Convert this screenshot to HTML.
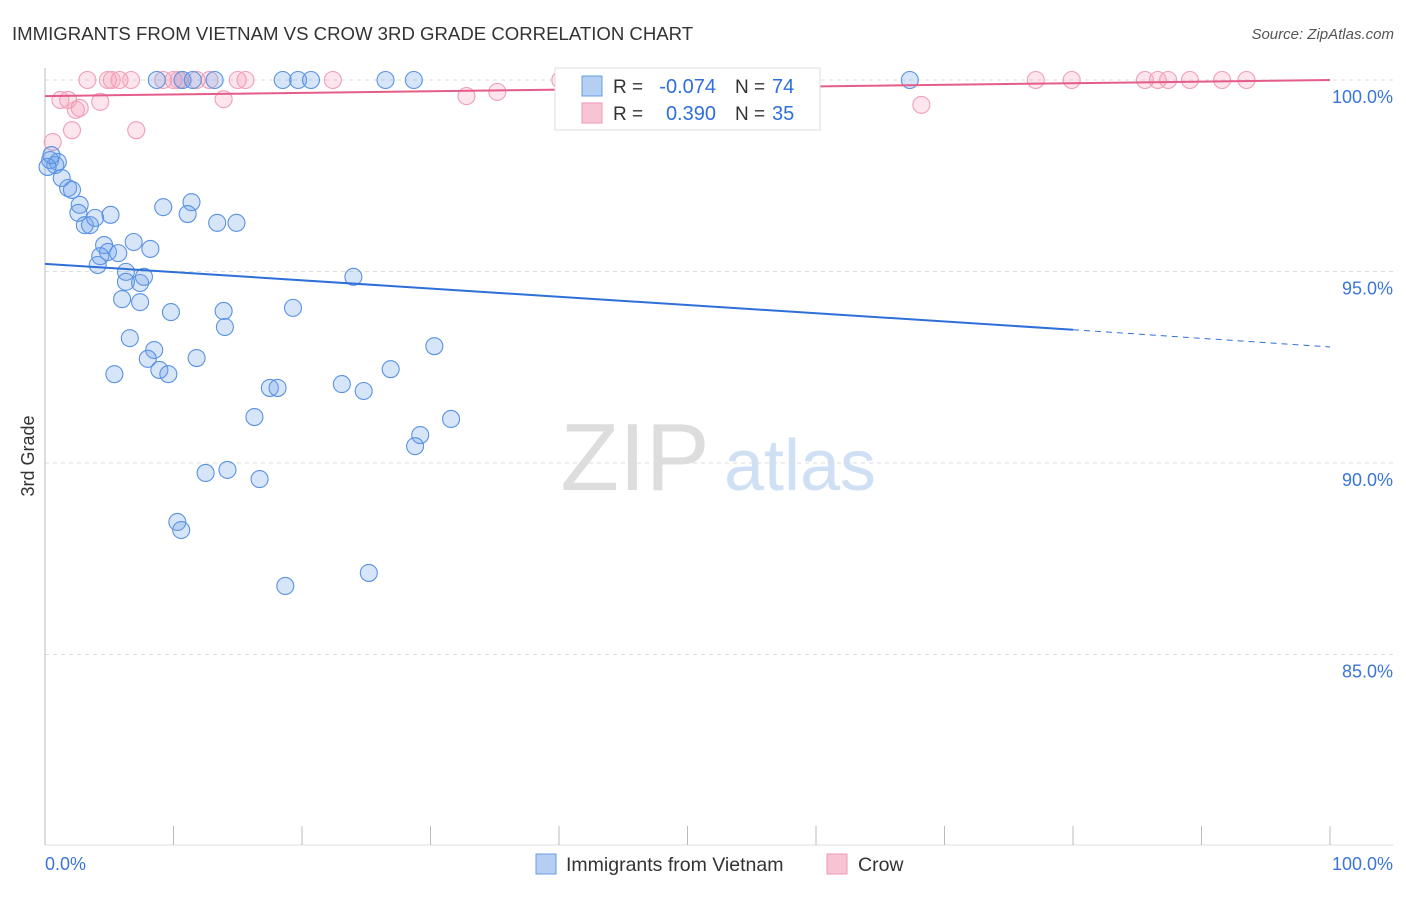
<!DOCTYPE html>
<html><head><meta charset="utf-8"><style>
body{margin:0;background:#fff;font-family:"Liberation Sans",sans-serif;}
svg text{font-family:"Liberation Sans",sans-serif;}
</style></head><body>
<svg id="c" width="1406" height="892" xmlns="http://www.w3.org/2000/svg">
<text x="12" y="40" font-size="18.6" fill="#333">IMMIGRANTS FROM VIETNAM VS CROW 3RD GRADE CORRELATION CHART</text>
<text x="1394" y="39" font-size="15" fill="#555" font-style="italic" text-anchor="end">Source: ZipAtlas.com</text>
<text x="34" y="456" font-size="18" fill="#333" text-anchor="middle" transform="rotate(-90 34 456)">3rd Grade</text>
<g><text x="635" y="490" font-size="96" fill="#ddd" font-family="Liberation Serif" text-anchor="middle">ZIP</text><text x="800" y="490" font-size="72" fill="#cfe0f5" text-anchor="middle">atlas</text></g>
<g id="grid"></g><g id="pts"></g><g id="lines"></g>
<g>
<rect x="555" y="68" width="265" height="62" fill="#fff" stroke="#ddd"/>
<rect x="582" y="76" width="20" height="20" fill="#b5cff3" stroke="#6a9be0"/>
<rect x="582" y="103" width="20" height="20" fill="#f8c3d3" stroke="#ec9ab4"/>
<text x="613" y="93" font-size="19" fill="#333">R =</text>
<text x="716" y="93" font-size="20" fill="#2f6fd8" text-anchor="end">-0.074</text>
<text x="735" y="93" font-size="19" fill="#333">N =</text>
<text x="772" y="93" font-size="20" fill="#2f6fd8">74</text>
<text x="613" y="120" font-size="19" fill="#333">R =</text>
<text x="716" y="120" font-size="20" fill="#2f6fd8" text-anchor="end">0.390</text>
<text x="735" y="120" font-size="19" fill="#333">N =</text>
<text x="772" y="120" font-size="20" fill="#2f6fd8">35</text>
</g>
<g>
<rect x="536" y="854" width="20" height="20" fill="#b5cff3" stroke="#6a9be0"/>
<text x="566" y="871" font-size="19.5" fill="#333">Immigrants from Vietnam</text>
<rect x="827" y="854" width="20" height="20" fill="#f8c3d3" stroke="#ec9ab4"/>
<text x="858" y="871" font-size="19.5" fill="#333">Crow</text>
</g>
<text x="45" y="870" font-size="18" fill="#3a76d8">0.0%</text>
<text x="1393" y="870" font-size="18" fill="#3a76d8" text-anchor="end">100.0%</text>
</svg>
<script>
const yTicks=[100,95,90,85];
const xTicks=[0,10,20,30,40,50,60,70,80,90,100];
const blueX=[8.7,10.7,11.5,13.2,18.5,19.7,20.7,26.5,28.7,43.0,67.3,0.4,0.8,1.0,0.2,0.5,1.3,1.8,2.1,2.7,2.6,3.1,3.5,3.9,5.1,4.6,4.9,4.3,4.1,5.7,6.9,8.2,6.3,6.3,7.4,7.7,6.0,7.4,9.2,11.4,11.1,13.4,14.9,9.8,6.6,8.5,8.0,8.9,9.6,5.4,11.8,13.9,14.0,19.3,24.0,30.3,26.9,23.1,24.8,17.5,18.1,16.3,31.6,29.2,28.8,12.5,14.2,16.7,10.3,10.6,18.7,25.2];
const blueY=[100,100,100,100,100,100,100,100,100,100,100,97.91,97.78,97.86,97.73,98.04,97.44,97.18,97.13,96.74,96.53,96.21,96.21,96.40,96.48,95.69,95.51,95.40,95.17,95.48,95.77,95.59,94.99,94.73,94.70,94.86,94.28,94.20,96.68,96.81,96.50,96.27,96.27,93.94,93.26,92.95,92.72,92.43,92.32,92.32,92.74,93.97,93.55,94.05,94.86,93.05,92.45,92.06,91.88,91.96,91.96,91.20,91.15,90.73,90.44,89.74,89.82,89.58,88.46,88.25,86.79,87.13];
const pinkX=[1.2,1.8,3.3,4.9,5.2,5.8,6.7,9.2,10.0,10.4,10.7,11.8,12.8,15.0,15.6,22.4,40.1,56.4,77.1,79.9,85.6,86.6,87.4,89.1,91.6,93.5,2.4,2.7,4.3,2.1,7.1,0.6,13.9,32.8,35.2,68.2];
const pinkY=[99.48,99.48,100,100,100,100,100,100,100,100,100,100,100,100,100,100,100,100,100,100,100,100,100,100,100,100,99.22,99.27,99.43,98.69,98.69,98.38,99.50,99.58,99.69,99.35];
const blueTrend=[95.2,93.48,93.03];
const pinkTrend=[99.58,100.0];
const NS='http://www.w3.org/2000/svg';
const X=v=>45+v*12.85, Y=v=>80+(100-v)*38.3;
function mk(t,a,p){const e=document.createElementNS(NS,t);for(const k in a)e.setAttribute(k,a[k]);p.appendChild(e);return e;}
const g=document.getElementById('grid'),pts=document.getElementById('pts'),ln=document.getElementById('lines');
yTicks.forEach(v=>{
 const l=mk('line',{x1:45,x2:1393,y1:Y(v),y2:Y(v),stroke:'#ddd','stroke-dasharray':'4,4'},g);
 
 
 const t=mk('text',{x:1393,y:Y(v)+23,'font-size':18,fill:'#3a76d8','text-anchor':'end'},g);t.textContent=v.toFixed(1)+'%';
 
 
});
mk('line',{x1:45,x2:45,y1:68,y2:845,stroke:'#bbb'},g);
mk('line',{x1:45,x2:1393,y1:845,y2:845,stroke:'#ddd'},g);
xTicks.forEach(v=>{const t=mk('line',{x1:X(v),x2:X(v),y1:826,y2:845,stroke:'#bbb'},g);
 
 });
pinkX.forEach((x,i)=>{const c=mk('circle',{cx:X(x),cy:Y(pinkY[i]),r:8.5,fill:'rgba(244,160,188,0.28)',stroke:'#ef9fb8','stroke-width':1.1},pts);
 
 });
blueX.forEach((x,i)=>{const c=mk('circle',{cx:X(x),cy:Y(blueY[i]),r:8.5,fill:'rgba(110,160,235,0.28)',stroke:'#5a92e2','stroke-width':1.1},pts);
 
 });
let l1=mk('line',{x1:X(0),y1:Y(blueTrend[0]),x2:X(80),y2:Y(blueTrend[1]),stroke:'#2f6fd8','stroke-width':2},ln);


let l2=mk('line',{x1:X(80),y1:Y(blueTrend[1]),x2:X(100),y2:Y(blueTrend[2]),stroke:'#2f6fd8','stroke-width':1,'stroke-dasharray':'6,5'},ln);


let l3=mk('line',{x1:X(0),y1:Y(pinkTrend[0]),x2:X(100),y2:Y(pinkTrend[1]),stroke:'#e35d88','stroke-width':2},ln);


</script>
</body></html>
